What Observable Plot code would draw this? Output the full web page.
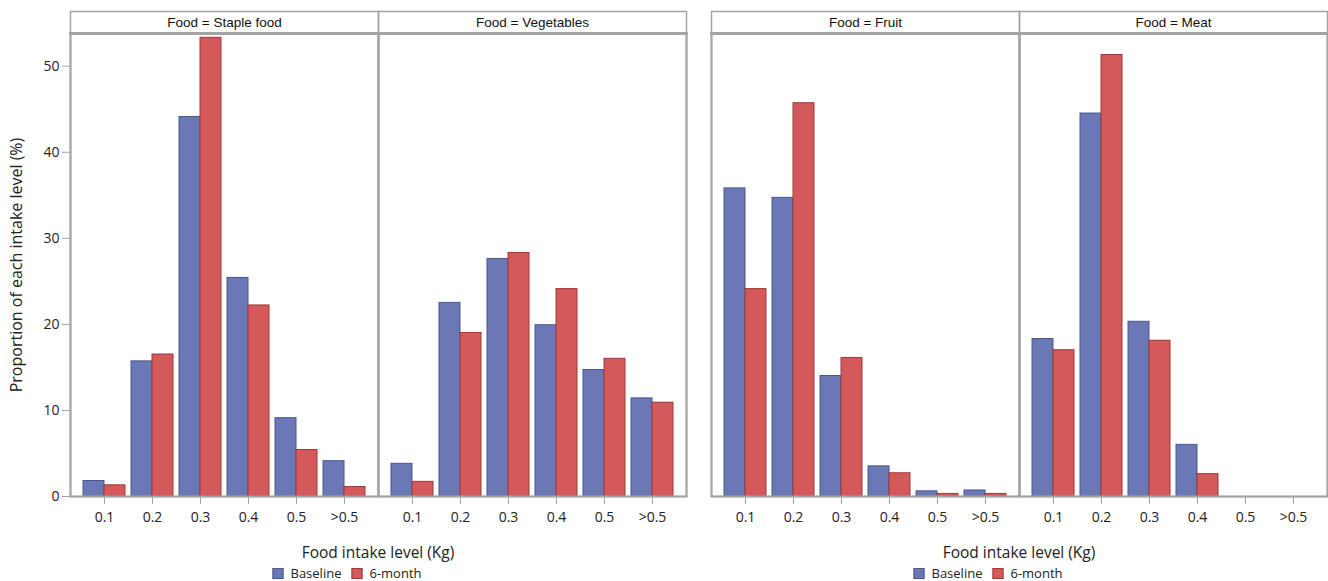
<!DOCTYPE html>
<html>
<head>
<meta charset="utf-8">
<script src="https://cdn.jsdelivr.net/npm/d3@7"></script>
<script src="https://cdn.jsdelivr.net/npm/@observablehq/plot@0.6"></script>
<style>
  html, body { margin: 0; padding: 0; background: #fff; }
  #wrap { position: relative; width: 1328px; height: 581px; overflow: hidden; font-family: "Open Sans", sans-serif; }
  .chart { position: absolute; top: 0; }
  .xlab { position: absolute; font-size: 15.5px; color: #222; transform: translate(-50%, -50%); white-space: nowrap; }
  .legend { position: absolute; font-size: 13px; color: #222; transform: translate(-50%, -50%); white-space: nowrap; display: flex; align-items: center; }
  .sw { display: inline-block; width: 9px; height: 9px; margin-right: 7px; }
  .item { display: inline-flex; align-items: center; margin-right: 10px; }
  .item:last-child { margin-right: 0; }
</style>
</head>
<body>
<div id="wrap"></div>
<script>
// ---- data ----
const levels = ["0.1", "0.2", "0.3", "0.4", "0.5", ">0.5"];
const series = ["Baseline", "6-month"];
const leftFoods = ["Staple food", "Vegetables"];
const rightFoods = ["Fruit", "Meat"];
const yTicks = [0, 10, 20, 30, 40, 50];

const stapleBaseline = [1.8, 15.7, 44.1, 25.4, 9.1, 4.1];
const staple6m       = [1.3, 16.5, 53.3, 22.2, 5.4, 1.1];
const vegBaseline    = [3.8, 22.5, 27.6, 19.9, 14.7, 11.4];
const veg6m          = [1.7, 19.0, 28.3, 24.1, 16.0, 10.9];
const fruitBaseline  = [35.8, 34.7, 14.0, 3.5, 0.6, 0.7];
const fruit6m        = [24.1, 45.7, 16.1, 2.7, 0.3, 0.3];
const meatBaseline   = [18.3, 44.5, 20.3, 6.0, 0, 0];
const meat6m         = [17.0, 51.3, 18.1, 2.6, 0, 0];

const yLabel = "Proportion of each intake level (%)";
const xLabel = "Food intake level (Kg)";

// ---- table ----
function rowsFor(food, base, six) {
  const out = [];
  levels.forEach((lv, i) => {
    out.push({food, level: lv, series: series[0], value: base[i]});
    out.push({food, level: lv, series: series[1], value: six[i]});
  });
  return out;
}
const rows = [
  ...rowsFor("Staple food", stapleBaseline, staple6m),
  ...rowsFor("Vegetables", vegBaseline, veg6m),
  ...rowsFor("Fruit", fruitBaseline, fruit6m),
  ...rowsFor("Meat", meatBaseline, meat6m)
];

const fillCol = {"Baseline": "#6A78B5", "6-month": "#D3595A"};
const strokeCol = {"Baseline": "#4A5690", "6-month": "#9C3A3A"};
const gray = "#A4A4A4";

function panel(foods, opts) {
  const data = rows.filter(d => foods.includes(d.food));
  const marks = [
    Plot.barY(data.filter(d => d.series === series[0]), {
      fx: "food", x: "level", y: "value",
      fill: fillCol[series[0]], stroke: strokeCol[series[0]], strokeWidth: 1,
      insetRight: 21
    }),
    Plot.barY(data.filter(d => d.series === series[1]), {
      fx: "food", x: "level", y: "value",
      fill: fillCol[series[1]], stroke: strokeCol[series[1]], strokeWidth: 1,
      insetLeft: 21
    }),
    Plot.frame({stroke: gray, strokeWidth: 2}),
    Plot.frame({stroke: gray, strokeWidth: 1.5, insetTop: -22}),
    Plot.frame({anchor: "top", stroke: gray, strokeWidth: 3}),
    Plot.text(foods, {
      fx: d => d, text: d => `Food = ${d}`,
      frameAnchor: "top", lineAnchor: "middle", dy: -11,
      fontFamily: "Liberation Sans, Arial, sans-serif", fontSize: 13.5, fill: "#111"
    }),
    Plot.axisX({
      tickSize: 8, tickPadding: 8, stroke: gray, fill: "#222",
      fontSize: 14, label: null
    })
  ];
  if (opts.yAxis) {
    marks.push(
      Plot.axisY({
        ticks: yTicks, tickSize: 8, tickPadding: 3, stroke: gray, fill: "#222",
        fontSize: 14, label: null
      }),
      Plot.text([foods[0]], {
        fx: d => d, text: () => yLabel,
        frameAnchor: "left", textAnchor: "middle", lineAnchor: "middle",
        rotate: -90, dx: -54,
        fontSize: 16, fill: "#222"
      })
    );
  }
  return Plot.plot({
    width: opts.width, height: 538,
    marginTop: 33, marginBottom: 42,
    marginLeft: opts.marginLeft, marginRight: opts.marginRight,
    style: {fontFamily: "Open Sans, sans-serif", background: "white", overflow: "visible"},
    fx: {domain: foods, padding: 0, axis: null, label: null},
    x: {domain: levels, paddingInner: 0.13, paddingOuter: 0.26, axis: null, label: null},
    y: {domain: [0, 53.8], axis: null, label: null},
    marks
  });
}

const wrap = document.getElementById("wrap");

const left = panel(leftFoods, {width: 692, marginLeft: 70, marginRight: 6, yAxis: true});
left.classList.add("chart");
left.style.left = "0px";
wrap.appendChild(left);

const right = panel(rightFoods, {width: 636, marginLeft: 19, marginRight: 1, yAxis: false});
right.classList.add("chart");
right.style.left = "692px";
wrap.appendChild(right);

function addBelow(cx, legendCx) {
  const xl = document.createElement("div");
  xl.className = "xlab";
  xl.textContent = xLabel;
  xl.style.left = cx + "px";
  xl.style.top = "552px";
  wrap.appendChild(xl);

  const lg = document.createElement("div");
  lg.className = "legend";
  lg.style.left = legendCx + "px";
  lg.style.top = "573px";
  series.forEach(s => {
    const it = document.createElement("span");
    it.className = "item";
    const sw = document.createElement("span");
    sw.className = "sw";
    sw.style.background = fillCol[s];
    sw.style.border = "1px solid " + strokeCol[s];
    it.appendChild(sw);
    it.appendChild(document.createTextNode(s));
    lg.appendChild(it);
  });
  wrap.appendChild(lg);
}
addBelow(378, 347);
addBelow(1019, 988);
</script>
</body>
</html>
